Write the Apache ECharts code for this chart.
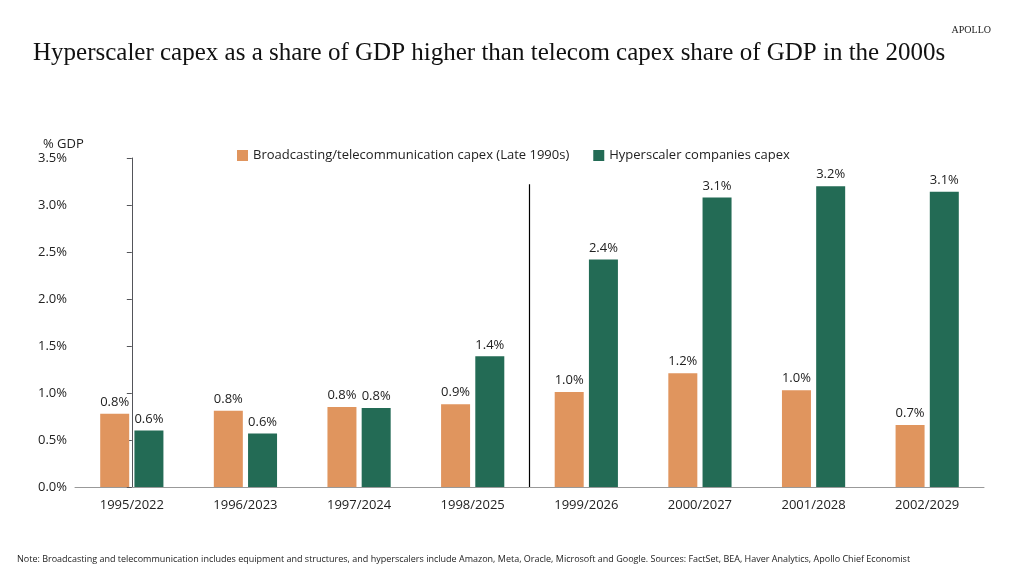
<!DOCTYPE html><html><head><meta charset="utf-8"><script src="https://cdn.jsdelivr.net/npm/echarts@6/dist/echarts.min.js"></script>
<style>body{margin:0;background:#fff}#c{width:1024px;height:576px}</style></head><body><div id="c"></div><script>
const categories=['1995/2022','1996/2023','1997/2024','1998/2025','1999/2026','2000/2027','2001/2028','2002/2029'];
const telecom=[0.78,0.81,0.85,0.88,1.01,1.21,1.03,0.66];
const hyper=[0.60,0.57,0.84,1.39,2.42,3.08,3.20,3.14];
const divider=[[3.5,0],[3.5,3.22]];
const lbl={show:true,position:'top',color:'#222',fontSize:13,fontFamily:'Open Sans',formatter:p=>p.value.toFixed(1)+'%'};
const chart=echarts.init(document.getElementById('c'));
chart.setOption({
animation:false,
title:[{text:'Hyperscaler capex as a share of GDP higher than telecom capex share of GDP in the 2000s',left:28,top:36,textStyle:{fontFamily:'Liberation Serif',fontWeight:'normal',fontSize:25,color:'#111'}},
{text:'APOLLO',right:28,top:20,textStyle:{fontFamily:'Liberation Serif',fontWeight:'normal',fontSize:10,color:'#222'}},
{text:'% GDP',left:38,top:133,textStyle:{fontFamily:'Open Sans',fontWeight:'normal',fontSize:13,color:'#222'}},
{text:'Note: Broadcasting and telecommunication includes equipment and structures, and hyperscalers include Amazon, Meta, Oracle, Microsoft and Google. Sources: FactSet, BEA, Haver Analytics, Apollo Chief Economist',left:12,top:550,textStyle:{fontFamily:'Open Sans',fontWeight:'normal',fontSize:9,color:'#222'}}],
legend:{top:144,left:232,itemWidth:11,itemHeight:11,itemGap:24,icon:'rect',data:['Broadcasting/telecommunication capex (Late 1990s)','Hyperscaler companies capex'],textStyle:{fontFamily:'Open Sans',fontSize:13,color:'#222'}},
grid:{left:75,right:40,top:158,bottom:89},
xAxis:[{type:'category',data:categories,axisTick:{show:false},axisLine:{lineStyle:{color:'#999'}},axisLabel:{color:'#222',fontSize:13,fontFamily:'Open Sans',margin:12}},
{type:'value',min:-0.5,max:7.5,show:false}],
yAxis:{type:'value',min:0,max:3.5,interval:0.5,splitLine:{show:false},axisLabel:{color:'#222',fontSize:13,fontFamily:'Open Sans',formatter:v=>v.toFixed(1)+'%'}},
series:[
{name:'Broadcasting/telecommunication capex (Late 1990s)',type:'bar',data:telecom,barWidth:29,barGap:'18%',itemStyle:{color:'#E0955E'},label:lbl},
{name:'Hyperscaler companies capex',type:'bar',data:hyper,barWidth:29,itemStyle:{color:'#236B55'},label:lbl},
{name:'divider',type:'line',xAxisIndex:1,data:divider,symbol:'none',silent:true,lineStyle:{color:'#000',width:1.2}}
]});
</script></body></html>
